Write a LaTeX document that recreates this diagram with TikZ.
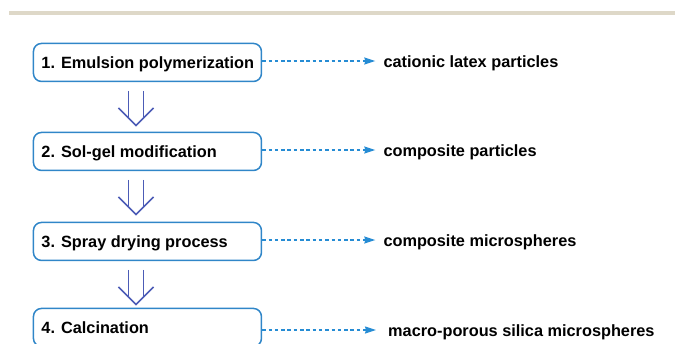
\documentclass[tikz,border=0pt]{standalone}
\usepackage{fontspec}
\setmainfont{Liberation Sans}
\usetikzlibrary{arrows.meta,calc}

\definecolor{boxblue}{RGB}{48,134,200}
\definecolor{dashblue}{RGB}{38,140,212}
\definecolor{flowblue}{RGB}{76,92,182}
\definecolor{rulebeige}{RGB}{222,216,200}

\newcommand\steplabel[1]{\makebox[212pt][l]{#1}}

\tikzset{
  stepbox/.style={draw=boxblue, line width=1.5pt, rounded corners=8pt,
    minimum height=38pt, inner xsep=8pt, inner ysep=0pt,
    text height=12pt, text depth=0pt, anchor=north west,
    font=\fontsize{16.3}{19}\selectfont\bfseries},
  result/.style={inner sep=0pt, anchor=west, text height=12pt, text depth=0pt,
    font=\fontsize{16.3}{19}\selectfont\bfseries},
  dasharrow/.style={draw=dashblue, line width=1.2pt,
    dash pattern=on 3.5pt off 2.8pt,
    -{Stealth[length=11pt,width=7pt,inset=1pt,fill=dashblue]},
    shorten >=8pt},
  flowline/.style={draw=flowblue, line width=1.6pt},
  dblarrow/.pic={
    \draw[flowline] (-7.5,8.7) -- (-7.5,35.7);
    \draw[flowline] (7.5,8.7) -- (7.5,35.7);
    \draw[flowline] (-17.5,25.7) -- (0,43.4) -- (17.5,25.7);
  }
}

\begin{document}
\begin{tikzpicture}[x=1pt,y=-1pt]
  \useasboundingbox (0,0) rectangle (675,343);
  \clip (0,0) rectangle (675,343);

  % header rule
  \fill[rulebeige] (8.7,11) rectangle (675,15);

  % process steps
  \node[stepbox] (b1) at (32.7,42.7)  {\steplabel{1. Emulsion polymerization}};
  \node[stepbox] (b2) at (32.7,131.7) {\steplabel{2. Sol-gel modification}};
  \node[stepbox] (b3) at (32.7,221.7) {\steplabel{3. Spray drying process}};
  \node[stepbox] (b4) at (32.7,307.7) {\steplabel{4. Calcination}};

  % products of each step
  \node[result] (t1) at (383.3,61)  {cationic latex particles};
  \node[result] (t2) at (383.3,150) {composite particles};
  \node[result] (t3) at (383.3,240) {composite microspheres};
  \node[result] (t4) at (388,330)   {macro-porous silica microspheres};

  % step -> product
  \draw[dasharrow] (b1.east |- t1.west) -- (t1.west);
  \draw[dasharrow] (b2.east |- t2.west) -- (t2.west);
  \draw[dasharrow] (b3.east |- t3.west) -- (t3.west);
  \draw[dasharrow, shorten >=12pt] (b4.east |- t4.west) -- (t4.west);

  % step -> next step
  \coordinate (ax) at (136,0);
  \pic at (b1.south -| ax) {dblarrow};
  \pic at (b2.south -| ax) {dblarrow};
  \pic at (b3.south -| ax) {dblarrow};
\end{tikzpicture}
\end{document}
